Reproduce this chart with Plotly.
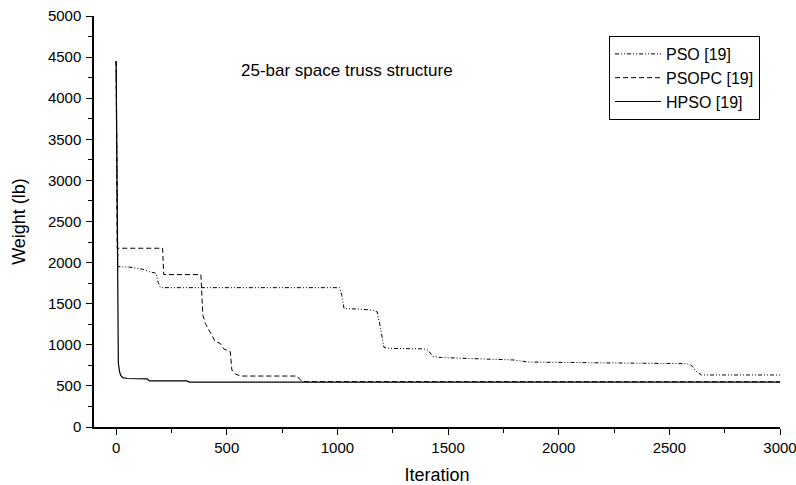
import plotly.graph_objects as go

# Data
pso_x = [0, 3, 8, 60, 120, 150, 180, 190, 200, 1010, 1020, 1030, 1100, 1160, 1180,
         1195, 1210, 1225, 1390, 1410, 1430, 1470, 1780, 1800, 1860, 2340, 2580,
         2600, 2620, 2645, 3000]
pso_y = [4450, 3000, 1950, 1945, 1920, 1890, 1870, 1760, 1695, 1695, 1600, 1440,
         1435, 1420, 1400, 1200, 970, 957, 950, 935, 860, 845, 821, 815, 790, 780,
         770, 750, 680, 633, 633]

psopc_x = [0, 3, 5, 210, 215, 383, 388, 392, 403, 448, 470, 486, 516, 523, 538,
           561, 817, 840, 3000]
psopc_y = [4450, 3000, 2175, 2175, 1855, 1855, 1600, 1362, 1261, 1038, 1018, 950,
           916, 693, 645, 620, 620, 552, 550]

hpso_x = [0, 5, 8, 10, 15, 20, 30, 50, 140, 150, 320, 330, 3000]
hpso_y = [4450, 2000, 900, 778, 680, 630, 600, 590, 585, 560, 560, 547, 545]

series_names = ["PSO [19]", "PSOPC [19]", "HPSO [19]"]
title_text = "25-bar space truss structure"

FONT = "Liberation Sans, Arial, Helvetica, sans-serif"

fig = go.Figure()
fig.add_trace(go.Scatter(x=pso_x, y=pso_y, mode="lines", name=series_names[0],
                         line=dict(color="black", width=1,
                                   dash="4px,2px,1px,2px,1px,2px")))
fig.add_trace(go.Scatter(x=psopc_x, y=psopc_y, mode="lines", name=series_names[1],
                         line=dict(color="black", width=1, dash="5px,3px")))
fig.add_trace(go.Scatter(x=hpso_x, y=hpso_y, mode="lines", name=series_names[2],
                         line=dict(color="black", width=1.2)))

fig.add_annotation(text=title_text, xref="paper", yref="paper",
                   x=(239 - 94) / 686, y=(427 - 71) / 411,
                   xanchor="left", yanchor="middle", showarrow=False,
                   font=dict(family=FONT, size=17, color="black"))

axis_common = dict(showgrid=False, zeroline=False, showline=True,
                   linecolor="black", linewidth=1.5, ticks="outside",
                   ticklen=6, tickwidth=1.2, tickcolor="black",
                   tickfont=dict(family=FONT, size=15, color="black"),
                   mirror=False, automargin=False, ticklabeloverflow="allow")

fig.update_layout(
    width=796, height=485,
    margin=dict(l=94, r=16, t=16, b=58),
    paper_bgcolor="white", plot_bgcolor="white",
    font=dict(family=FONT, color="black"),
    xaxis=dict(range=[-100, 3000], tickvals=[0, 500, 1000, 1500, 2000, 2500, 3000],
               title=dict(text="Iteration", font=dict(family=FONT, size=18)),
               minor=dict(tickvals=[250, 750, 1250, 1750, 2250, 2750], ticks="outside",
                          ticklen=4, tickwidth=1.2, tickcolor="black"),
               **axis_common),
    yaxis=dict(range=[0, 5000], tickvals=list(range(0, 5001, 500)),
               title=dict(text="Weight (lb)", font=dict(family=FONT, size=18), standoff=18),
               minor=dict(tickvals=list(range(250, 5000, 500)), ticks="outside",
                          ticklen=4, tickwidth=1.2, tickcolor="black"),
               ticklabelstandoff=2,
               **axis_common),
    legend=dict(x=(609 - 94) / 686, y=(427 - 36) / 411, xanchor="left", yanchor="top",
                bordercolor="black", borderwidth=1, bgcolor="white",
                font=dict(family=FONT, size=16, color="black"),
                tracegroupgap=0, itemwidth=46, entrywidth=160, entrywidthmode="pixels"),
    showlegend=True,
)

fig.write_html("out.html")
